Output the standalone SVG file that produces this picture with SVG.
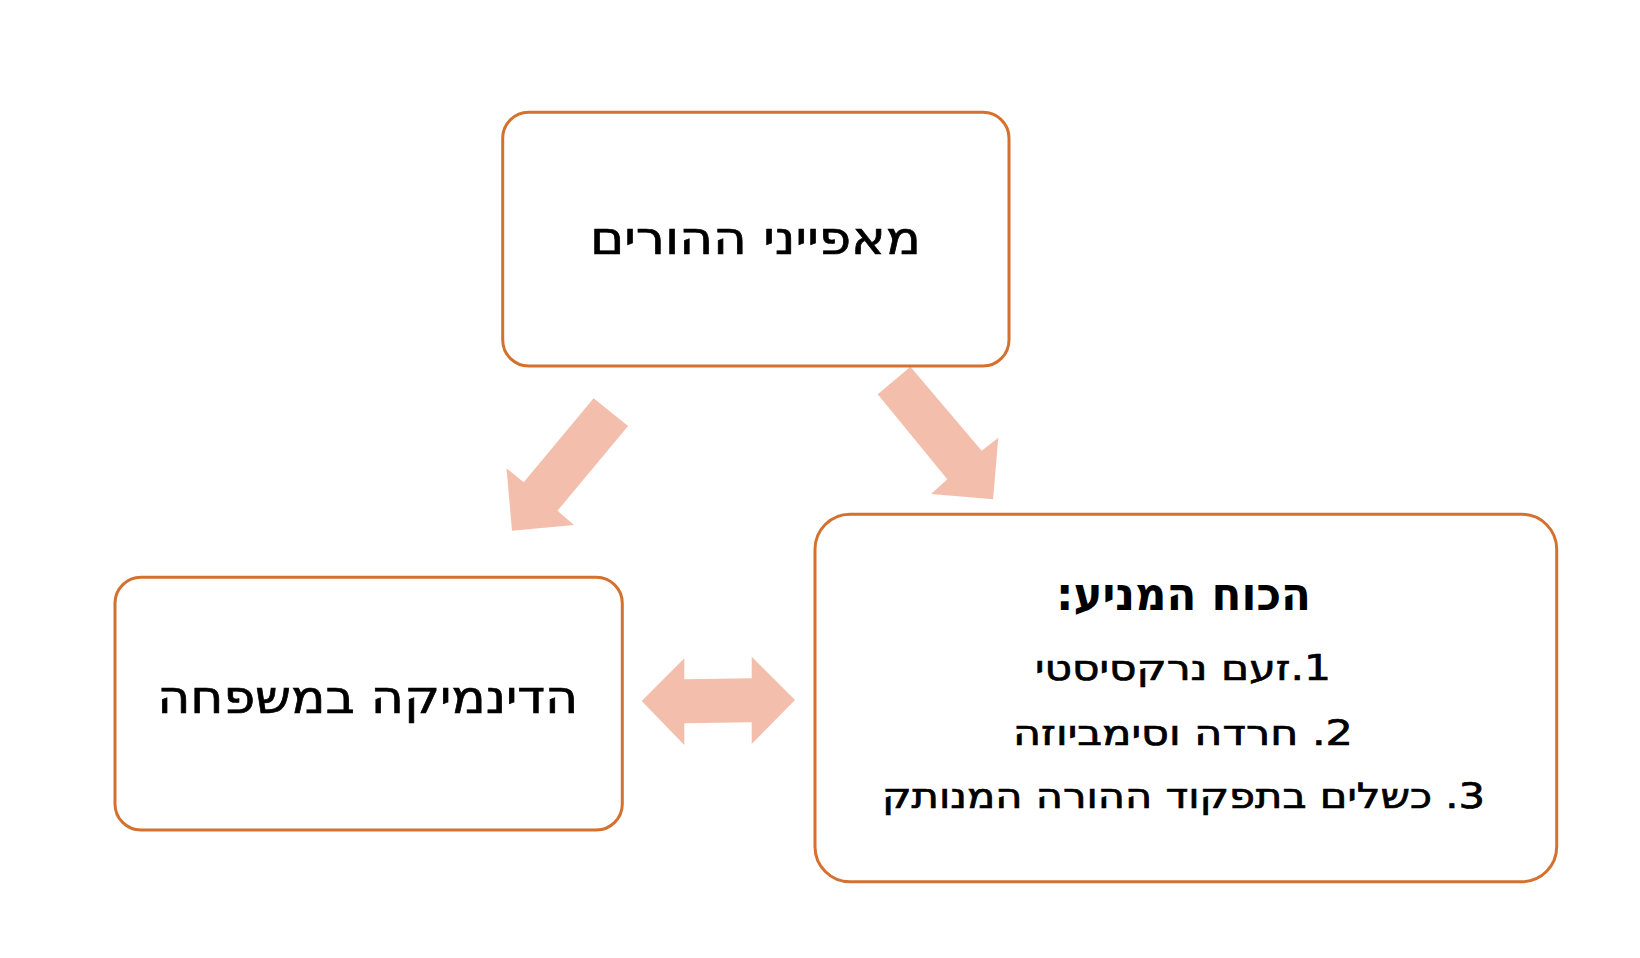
<svg xmlns="http://www.w3.org/2000/svg" width="1640" height="958" viewBox="0 0 1640 958">
<style>
.box{fill:#FFFFFF;stroke:#D4712F;stroke-width:3}
.arr{fill:#F4BEAC;stroke:none}
.t{font-family:"DejaVu Sans","Liberation Sans",sans-serif;fill:#000000;direction:rtl;text-anchor:middle}
.reg{stroke:#000000;stroke-width:0.7}
.big{font-size:46px}
.item{font-size:35px}
.title{font-size:46px;font-weight:bold}
</style>
<rect width="1640" height="958" fill="#FFFFFF"/>
<g id="connectors">
<polygon class="arr" points="593.6,398.3 628.1,426 557.5,510.7 574,525 512,530.7 506.5,468.3 523.7,482.3"/>
<polygon class="arr" points="910.4,366.7 981.7,450.7 998.3,437.7 993.1,499.3 931.1,494 947.3,479.3 877.7,394.3"/>
<polygon class="arr" points="641.7,701 684.3,658.3 684.3,679.3 751.7,678.3 751.7,656.7 795,700 751.7,744 751.7,722.3 684.3,723.3 684.3,745"/>
</g>
<g id="node-parents">
<rect class="box" x="502.7" y="112.3" width="506.3" height="253.7" rx="26" ry="26"/>
<text class="t reg big" x="755.4" y="254" textLength="331" lengthAdjust="spacingAndGlyphs">מאפייני ההורים</text>
</g>
<g id="node-family">
<rect class="box" x="115" y="577.3" width="507.3" height="252.7" rx="26" ry="26"/>
<text class="t reg big" x="367.7" y="713" textLength="421" lengthAdjust="spacingAndGlyphs">הדינמיקה במשפחה</text>
</g>
<g id="node-driving-force">
<rect class="box" x="815" y="514.3" width="741.7" height="367.4" rx="35" ry="35"/>
<text class="t title" x="1183.5" y="610" textLength="255" lengthAdjust="spacingAndGlyphs">הכוח המניע:</text>
<text class="t reg item" x="1183" y="680" textLength="296" lengthAdjust="spacingAndGlyphs">1.זעם נרקסיסטי</text>
<text class="t reg item" x="1183" y="745" textLength="340" lengthAdjust="spacingAndGlyphs">2. חרדה וסימביוזה</text>
<text class="t reg item" x="1183.5" y="808" textLength="603" lengthAdjust="spacingAndGlyphs">3. כשלים בתפקוד ההורה המנותק</text>
</g>
</svg>
